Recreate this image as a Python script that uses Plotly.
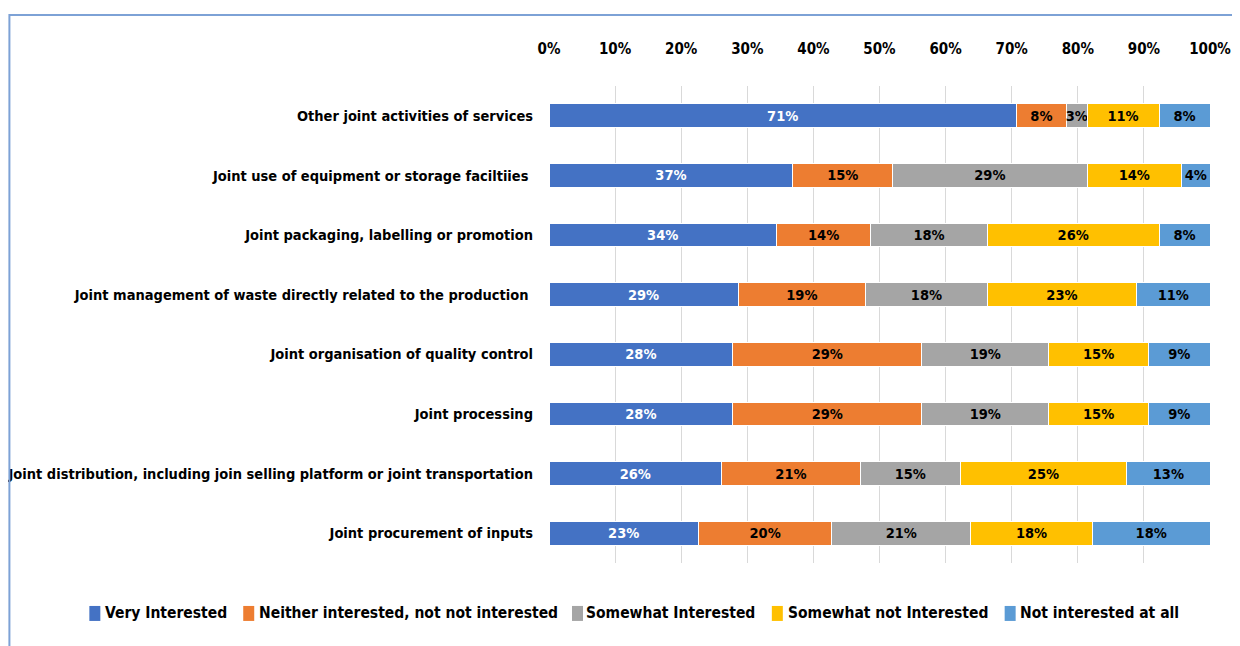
import plotly.graph_objects as go

categories = [
    "Other joint activities of services",
    "Joint use of equipment or storage faciltiies ",
    "Joint packaging, labelling or promotion",
    "Joint management of waste directly related to the production ",
    "Joint organisation of quality control",
    "Joint processing",
    "Joint distribution, including join selling platform or joint transportation",
    "Joint procurement of inputs",
]

very_interested = [70.7, 36.9, 34.4, 28.6, 27.8, 27.8, 26.1, 22.6]
neither = [7.6, 15.1, 14.3, 19.3, 28.6, 28.6, 21.0, 20.2]
somewhat_interested = [3.1, 29.4, 17.6, 18.4, 19.2, 19.2, 15.1, 21.0]
somewhat_not = [10.9, 14.3, 26.0, 22.6, 15.1, 15.1, 25.2, 18.4]
not_at_all = [7.7, 4.3, 7.7, 11.1, 9.3, 9.3, 12.6, 17.8]

series_names = [
    "Very Interested",
    "Neither interested, not not interested",
    "Somewhat Interested",
    "Somewhat not Interested",
    "Not interested at all",
]
series_values = [very_interested, neither, somewhat_interested, somewhat_not, not_at_all]
colors = ["#4472C4", "#ED7D31", "#A5A5A5", "#FFC000", "#5B9BD5"]
text_colors = ["white", "black", "black", "black", "black"]

tick_vals = list(range(0, 101, 10))
tick_text = [f"{v}%" for v in tick_vals]

FONT = "DejaVu Sans Condensed, Liberation Sans, sans-serif"

# page body adds an 8px offset; build the figure 8px smaller and shift coords
OFF = 8
W, H = 1240 - OFF, 646 - OFF
L = 549 - OFF
RIGHT = 1210.5 - OFF
TOP = 85.5 - OFF
BOTTOM = 563 - OFF
R = W - RIGHT
B = H - BOTTOM
pw, ph = RIGHT - L, BOTTOM - TOP


def px_x(p):
    return (p - OFF - L) / pw


def px_y(p):
    return (BOTTOM - (p - OFF)) / ph


fig = go.Figure()
for name, vals, col, tcol in zip(series_names, series_values, colors, text_colors):
    fig.add_trace(go.Bar(
        y=categories, x=vals, name=name, orientation="h",
        marker=dict(color=col, line=dict(color="white", width=1)),
        text=[f"{v:.0f}%" for v in vals],
        textposition="inside", insidetextanchor="middle", textangle=0,
        textfont=dict(family=FONT, size=14.5, color=tcol, weight="bold"),
        constraintext="none",
        hoverinfo="skip",
        showlegend=False,
    ))

fig.update_layout(
    barmode="stack",
    width=W, height=H,
    margin=dict(l=L, r=R, t=TOP, b=B, autoexpand=False),
    paper_bgcolor="white", plot_bgcolor="white",
    bargap=0.6,
    font=dict(family=FONT, size=15, color="black", weight="bold"),
    showlegend=False,
    xaxis=dict(
        side="top", range=[0, 100], tickvals=tick_vals, ticktext=tick_text,
        showgrid=True, gridcolor="#D9D9D9", gridwidth=1, zeroline=False,
        showline=False, ticks="", ticklabelstandoff=28, automargin=False,
        tickfont=dict(family=FONT, size=15, color="black", weight="bold"),
    ),
    yaxis=dict(
        autorange="reversed", showgrid=False, zeroline=False, showline=False,
        ticks="", ticklabelstandoff=15, automargin=False,
        tickfont=dict(family=FONT, size=14.5, color="black", weight="bold"),
    ),
    uniformtext=dict(mode=False),
)

# legend drawn manually to follow the reference spacing
legend_marker_x = [89, 243, 572, 772, 1005]
legend_text_x = [105, 259, 586, 788, 1020]
legend_y = 613.5
for name, col, mx, tx in zip(series_names, colors, legend_marker_x, legend_text_x):
    fig.add_shape(
        type="rect", xref="paper", yref="paper",
        x0=px_x(mx), x1=px_x(mx + 11),
        y0=px_y(legend_y + 7.5), y1=px_y(legend_y - 7.5),
        fillcolor=col, line=dict(width=0),
    )
    fig.add_annotation(
        xref="paper", yref="paper", x=px_x(tx - 2), y=px_y(legend_y),
        xanchor="left", yanchor="middle", showarrow=False, text=name,
        font=dict(family=FONT, size=15.5, color="black", weight="bold"),
    )

# light blue chart-area frame (top and left edges visible)
fig.add_shape(
    type="path", xref="paper", yref="paper",
    path=f"M {px_x(9)} {px_y(680)} L {px_x(9)} {px_y(14.5)} L {px_x(1280)} {px_y(14.5)}",
    line=dict(color="#7DA2D6", width=2),
)

fig.write_html("out.html")
